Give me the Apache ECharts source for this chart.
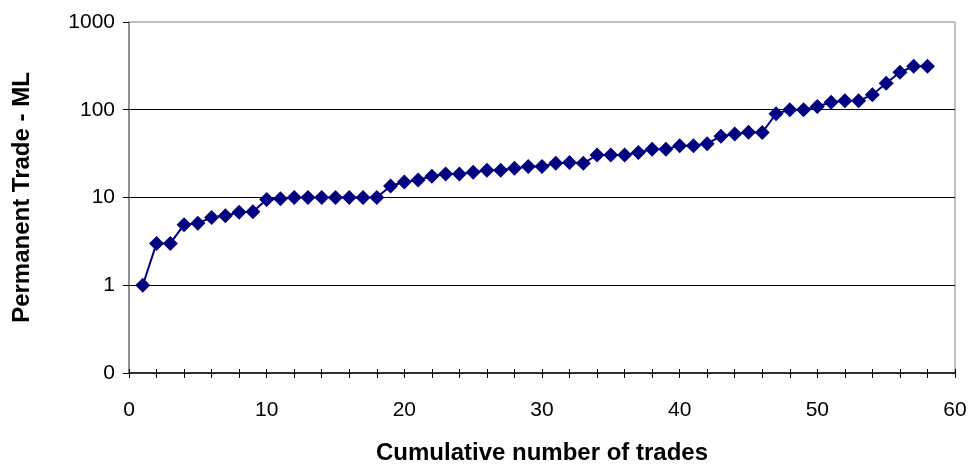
<!DOCTYPE html>
<html>
<head>
<meta charset="utf-8">
<title>Permanent Trade - ML</title>
<script src="https://cdn.jsdelivr.net/npm/echarts@6/dist/echarts.min.js"></script>
<style>
  html, body { margin: 0; padding: 0; background: #ffffff; }
  #chart { width: 972px; height: 464px; }
</style>
</head>
<body>
<div id="chart"></div>
<script>
// Cumulative trade count (x) and permanent trade volume in ML (y, log scale)
const tradeCount = [
  1, 2, 3, 4, 5, 6, 7, 8, 9, 10,
  11, 12, 13, 14, 15, 16, 17, 18, 19, 20,
  21, 22, 23, 24, 25, 26, 27, 28, 29, 30,
  31, 32, 33, 34, 35, 36, 37, 38, 39, 40,
  41, 42, 43, 44, 45, 46, 47, 48, 49, 50,
  51, 52, 53, 54, 55, 56, 57, 58
];
const tradeVolumeML = [
  1, 3, 3, 4.9, 5.1, 5.9, 6.2, 6.8, 6.9, 9.5,
  9.7, 10, 10, 10, 10, 10, 10, 10, 13.5, 15,
  15.8, 17.5, 18.5, 18.5, 19.4, 20.5, 20.5, 21.5, 22.5, 22.5,
  24.5, 25, 24.5, 30.5, 30.5, 30.5, 32.5, 35.5, 35.5, 39,
  39, 41, 50, 53, 55.5, 55, 90, 100, 100, 109,
  122, 127, 127, 148, 200, 267, 313, 313
];
// Labels shown at the decade ticks 0.1, 1, 10, 100, 1000
const yTickLabels = ['0', '1', '10', '100', '1000'];
const xTickLabels = ['0', '10', '20', '30', '40', '50', '60'];

const points = tradeCount.map((x, i) => [x, tradeVolumeML[i]]);

const chart = echarts.init(document.getElementById('chart'), null, { renderer: 'canvas' });

const labelFont = { fontFamily: 'Liberation Sans, Arial, sans-serif', fontSize: 21, color: '#000' };
const titleFont = { fontFamily: 'Liberation Sans, Arial, sans-serif', fontSize: 24, fontWeight: 'bold', color: '#000' };

const xBase = {
  type: 'value',
  min: 0,
  max: 60,
  interval: 2,
  position: 'bottom',
  splitLine: { show: false }
};

chart.setOption({
  animation: false,
  backgroundColor: '#ffffff',
  grid: {
    left: 129, right: 17, top: 22, bottom: 91,
    containLabel: false,
    outerBoundsMode: 'none',
    show: true,
    borderColor: '#808080',
    borderWidth: 1,
    backgroundColor: 'transparent'
  },
  xAxis: [
    Object.assign({}, xBase, {
      name: 'Cumulative number of trades',
      nameLocation: 'middle',
      nameGap: 68,
      nameTextStyle: titleFont,
      axisLine: { show: true, lineStyle: { color: '#000', width: 1.5 } },
      axisTick: { show: true, inside: false, length: 5, lineStyle: { color: '#000', width: 1 } },
      axisLabel: Object.assign({}, labelFont, {
        margin: 27,
        formatter: v => (v % 10 === 0 ? xTickLabels[v / 10] : '')
      })
    }),
    Object.assign({}, xBase, {
      axisLine: { show: false },
      axisTick: { show: true, inside: true, length: 4, lineStyle: { color: '#000', width: 1 } },
      axisLabel: { show: false }
    })
  ],
  yAxis: {
    type: 'log',
    logBase: 10,
    min: 0.1,
    max: 1000,
    name: 'Permanent Trade - ML',
    nameLocation: 'middle',
    nameGap: 95,
    nameTextStyle: titleFont,
    axisLine: { show: true, lineStyle: { color: '#808080', width: 1.5 } },
    axisTick: { show: true, inside: false, length: 6, lineStyle: { color: '#000', width: 1 } },
    axisLabel: Object.assign({}, labelFont, {
      margin: 14,
      formatter: v => yTickLabels[Math.round(Math.log10(v)) + 1]
    }),
    splitLine: {
      show: true,
      showMinLine: false,
      showMaxLine: false,
      lineStyle: { color: '#000', width: 1 }
    }
  },
  series: [{
    type: 'line',
    xAxisIndex: 0,
    data: points,
    symbol: 'diamond',
    symbolSize: 15,
    lineStyle: { color: '#000080', width: 2 },
    itemStyle: { color: '#000080' },
    z: 5
  }]
});
</script>
</body>
</html>
